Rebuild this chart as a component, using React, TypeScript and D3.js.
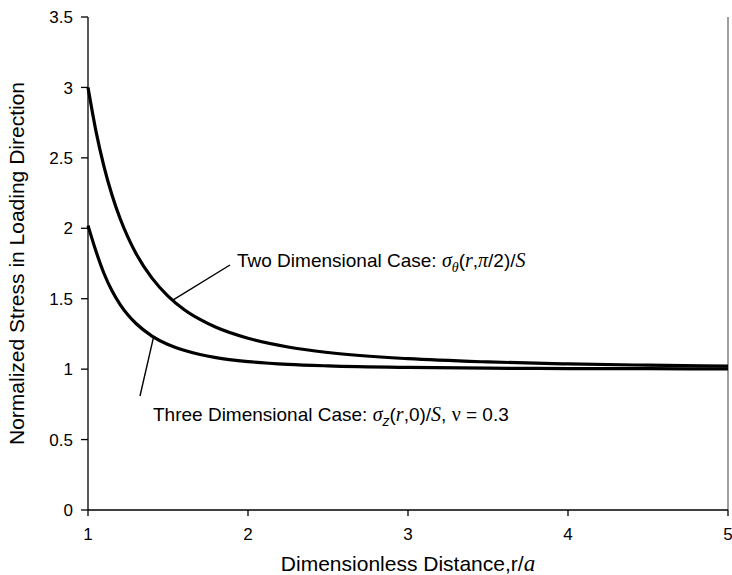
import React from "react";
import * as d3 from "d3";

const rValues = [1, 1.05, 1.1, 1.15, 1.2, 1.25, 1.3, 1.4, 1.5, 1.6, 1.7, 1.8, 2.0, 2.25, 2.5, 3, 3.5, 4, 4.5, 5];
const twoD = [3.0, 2.688, 2.438, 2.236, 2.071, 1.935, 1.821, 1.646, 1.519, 1.424, 1.353, 1.297, 1.219, 1.157, 1.118, 1.074, 1.051, 1.037, 1.028, 1.022];
const threeD = [2.02, 1.837, 1.679, 1.556, 1.46, 1.384, 1.324, 1.235, 1.175, 1.134, 1.104, 1.082, 1.054, 1.034, 1.023, 1.012, 1.007, 1.004, 1.003, 1.002];
const xTicks = [1, 2, 3, 4, 5];
const yTicks = [0, 0.5, 1, 1.5, 2, 2.5, 3, 3.5];

const W = 732;
const H = 575;
const left = 88, right = 728, top = 17, bottom = 510;
const sans = "'Liberation Sans', Arial, sans-serif";
const serif = "'Liberation Serif', 'Times New Roman', serif";
const TICK_FS = 17;
const TITLE_FS = 21;
const NOTE_FS = 19;

export default function App() {
  const x = d3.scaleLinear().domain([1, 5]).range([left, right]);
  const y = d3.scaleLinear().domain([0, 3.5]).range([bottom, top]);
  const line = d3
    .line<number>()
    .x((_, i) => x(rValues[i]))
    .y((d) => y(d))
    .curve(d3.curveMonotoneX);

  const interp = (arr: number[], r: number) => {
    const i = d3.bisectLeft(rValues, r);
    return arr[i - 1] + ((arr[i] - arr[i - 1]) * (r - rValues[i - 1])) / (rValues[i] - rValues[i - 1]);
  };
  const r2 = 1.53;
  const v2 = interp(twoD, r2);
  const r3 = 1.41;
  const v3 = interp(threeD, r3);

  return (
    <svg
      width={W}
      height={H}
      style={{ position: "absolute", left: 0, top: 0, background: "#fff" }}
      fontFamily={sans}
    >
      <rect x={0} y={0} width={W} height={H} fill="#fff" />
      <line x1={right} x2={right} y1={top} y2={bottom} stroke="#808080" strokeWidth={1.5} />
      <line x1={left} x2={left} y1={top} y2={bottom} stroke="#000" strokeWidth={1.3} />
      <line x1={left} x2={right} y1={bottom} y2={bottom} stroke="#000" strokeWidth={1.3} />
      {yTicks.map((t) => (
        <g key={"y" + t}>
          <line x1={left - 7} x2={left} y1={y(t)} y2={y(t)} stroke="#000" strokeWidth={1.3} />
          <text x={left - 15} y={y(t)} dy="0.36em" textAnchor="end" fontSize={TICK_FS} fill="#000">
            {t}
          </text>
        </g>
      ))}
      {xTicks.map((t) => (
        <g key={"x" + t}>
          <line x1={x(t)} x2={x(t)} y1={bottom} y2={bottom + 6} stroke="#000" strokeWidth={1.3} />
          <text x={x(t)} y={bottom + 30} textAnchor="middle" fontSize={TICK_FS} fill="#000">
            {t}
          </text>
        </g>
      ))}
      <text x={(left + right) / 2} y={571} textAnchor="middle" fontSize={TITLE_FS} fill="#000">
        Dimensionless Distance,r/
        <tspan fontFamily={serif} fontStyle="italic" fontSize={TITLE_FS + 2}>a</tspan>
      </text>
      <text
        transform={`translate(24,${(top + bottom) / 2}) rotate(-90)`}
        textAnchor="middle"
        fontSize={TITLE_FS}
        fill="#000"
      >
        Normalized Stress in Loading Direction
      </text>

      <path d={line(twoD) || ""} fill="none" stroke="#000" strokeWidth={3.2} />
      <path d={line(threeD) || ""} fill="none" stroke="#000" strokeWidth={3.2} />

      <line x1={x(r2)} y1={y(v2)} x2={230} y2={265} stroke="#000" strokeWidth={1.4} />
      <line x1={x(r3)} y1={y(v3)} x2={140} y2={396} stroke="#000" strokeWidth={1.4} />

      <text x={237} y={267} fontSize={NOTE_FS} fill="#000">
        Two Dimensional Case:{" "}
        <tspan fontFamily={serif} fontStyle="italic" fontSize={NOTE_FS + 1}>σ</tspan>
        <tspan fontFamily={serif} fontStyle="italic" fontSize={NOTE_FS - 5} dy={5}>θ</tspan>
        <tspan dy={-5}>(</tspan>
        <tspan fontFamily={serif} fontStyle="italic" fontSize={NOTE_FS + 1}>r</tspan>
        <tspan>,</tspan>
        <tspan fontFamily={serif} fontStyle="italic" fontSize={NOTE_FS + 1}>π</tspan>
        <tspan>/2)/</tspan>
        <tspan fontFamily={serif} fontStyle="italic" fontSize={NOTE_FS + 1}>S</tspan>
      </text>
      <text x={153} y={421} fontSize={NOTE_FS} fill="#000">
        Three Dimensional Case:{" "}
        <tspan fontFamily={serif} fontStyle="italic" fontSize={NOTE_FS + 1}>σ</tspan>
        <tspan fontStyle="italic" fontSize={NOTE_FS - 5} dy={5}>z</tspan>
        <tspan dy={-5}>(</tspan>
        <tspan fontFamily={serif} fontStyle="italic" fontSize={NOTE_FS + 1}>r</tspan>
        <tspan>,0)/</tspan>
        <tspan fontFamily={serif} fontStyle="italic" fontSize={NOTE_FS + 1}>S</tspan>
        <tspan>, </tspan>
        <tspan fontFamily={serif} fontSize={NOTE_FS + 1}>ν</tspan>
        <tspan> = 0.3</tspan>
      </text>
    </svg>
  );
}
